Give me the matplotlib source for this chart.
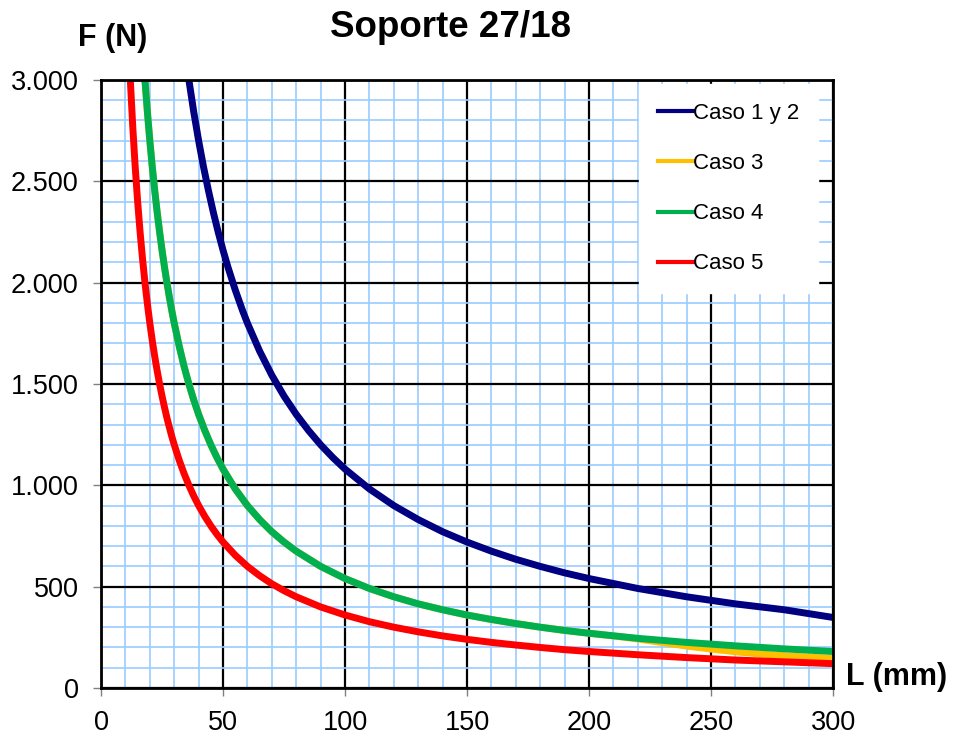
import matplotlib
matplotlib.use('Agg')
from matplotlib import pyplot as plt
from matplotlib.ticker import MultipleLocator, FuncFormatter

plt.rcParams['font.family'] = ['Liberation Sans', 'DejaVu Sans']

# values (L in mm, F in N)
L_caso12 = [34, 35, 36, 38, 40, 42, 44, 46, 48, 50, 52, 55, 58, 60, 65, 70, 75, 80, 85, 90, 95, 100,
            110, 120, 130, 140, 150, 160, 170, 180, 190, 200, 220, 240, 260, 280, 300]
F_caso12 = [3176, 3086, 3000, 2842, 2700, 2571, 2455, 2348, 2250, 2160, 2077, 1964, 1862, 1800, 1662,
            1543, 1440, 1350, 1271, 1200, 1137, 1080, 982, 900, 831, 771, 720, 675, 635, 600, 568, 540,
            491, 450, 415, 386, 348]

L_caso4 = [17, 18, 19, 20, 21, 22, 23, 24, 25, 26, 27, 28, 29, 30, 32, 34, 36, 38, 40, 42.5, 45, 47.5,
           50, 55, 60, 65, 70, 75, 80, 90, 100, 110, 120, 130, 140, 150, 160, 170, 180, 190, 200,
           220, 240, 260, 280, 300]
F_caso4 = [3176, 3000, 2842, 2700, 2571, 2455, 2348, 2250, 2160, 2077, 2000, 1929, 1862, 1800, 1688,
           1588, 1500, 1421, 1350, 1271, 1200, 1137, 1080, 982, 900, 831, 771, 720, 675, 600, 540, 491,
           450, 415, 386, 360, 338, 318, 300, 284, 270, 245, 225, 208, 193, 180]

L_caso3 = [17, 18, 19, 20, 21, 22, 23, 24, 25, 26, 27, 28, 29, 30, 32, 34, 36, 38, 40, 42.5, 45, 47.5,
           50, 55, 60, 65, 70, 75, 80, 90, 100, 110, 120, 130, 140, 150, 160, 170, 180, 190, 200,
           210, 220, 230, 240, 250, 260, 270, 280, 290, 300]
F_caso3 = [3176, 3000, 2842, 2700, 2571, 2455, 2348, 2250, 2160, 2077, 2000, 1929, 1862, 1800, 1688,
           1588, 1500, 1421, 1350, 1271, 1200, 1137, 1080, 982, 900, 831, 771, 720, 675, 600, 540, 491,
           450, 415, 386, 360, 338, 318, 300, 284, 270, 257, 242, 224, 207, 192, 179, 168, 159, 152, 146]

L_caso5 = [11, 12, 13, 14, 15, 16, 17, 18, 19, 20, 21, 22, 23, 24, 25, 26, 27, 28, 29, 30, 32, 34, 36,
           38, 40, 42.5, 45, 47.5, 50, 55, 60, 65, 70, 75, 80, 90, 100, 110, 120, 130, 140, 150, 160,
           170, 180, 190, 200, 220, 240, 260, 280, 300]
F_caso5 = [3273, 3000, 2769, 2571, 2400, 2250, 2118, 2000, 1895, 1800, 1714, 1636, 1565, 1500, 1440,
           1385, 1333, 1286, 1241, 1200, 1125, 1059, 1000, 947, 900, 847, 800, 758, 720, 655, 600, 554,
           514, 480, 450, 400, 360, 327, 300, 277, 257, 240, 225, 212, 200, 189, 180, 164, 150, 138,
           129, 120]

fig = plt.figure(figsize=(9.55, 7.37), dpi=100)
ax = fig.add_axes([0.1058, 0.0665, 0.7665, 0.825])

lw = 5
ax.plot(L_caso12, F_caso12, color='#000080', lw=lw, label='Caso 1 y 2')
ax.plot(L_caso3, F_caso3, color='#FFC000', lw=lw, label='Caso 3')
ax.plot(L_caso4, F_caso4, color='#00B050', lw=lw, label='Caso 4')
ax.plot(L_caso5, F_caso5, color='#FF0000', lw=lw, label='Caso 5')

ax.set_xlim(0, 300)
ax.set_ylim(0, 3000)
ax.xaxis.set_major_locator(MultipleLocator(50))
ax.xaxis.set_minor_locator(MultipleLocator(10))
ax.yaxis.set_major_locator(MultipleLocator(500))
ax.yaxis.set_minor_locator(MultipleLocator(100))
ax.yaxis.set_major_formatter(FuncFormatter(lambda v, p: '{:,.0f}'.format(v).replace(',', '.')))

ax.grid(True, which='minor', color='#99CCFF', lw=1.2, zorder=0)
ax.grid(True, which='major', color='black', lw=1.6, zorder=1)
ax.set_axisbelow(True)
for s in ax.spines.values():
    s.set_linewidth(2)
    s.set_color('black')

ax.tick_params(which='major', length=6, width=1, color='#808080', labelsize=19.5)
ax.tick_params(axis='y', pad=10)
ax.tick_params(axis='x', pad=10)
ax.tick_params(which='minor', length=0)

fig.text(0.472, 0.963, 'Soporte 27/18', ha='center', va='center', fontsize=26.5, fontweight='bold')
fig.text(0.118, 0.949, 'F (N)', ha='center', va='center', fontsize=22, fontweight='bold')
fig.text(0.939, 0.081, 'L (mm)', ha='center', va='center', fontsize=22, fontweight='bold')

leg = ax.legend(loc='upper left', bbox_to_anchor=(0.7345, 0.993), fontsize=16, frameon=True,
                fancybox=False, framealpha=1, edgecolor='white', handlelength=1.6,
                handletextpad=0.0, labelspacing=1.31, borderpad=0.85, borderaxespad=0)
for line in leg.get_lines():
    line.set_linewidth(3)

plt.savefig('out.png', dpi=100)
